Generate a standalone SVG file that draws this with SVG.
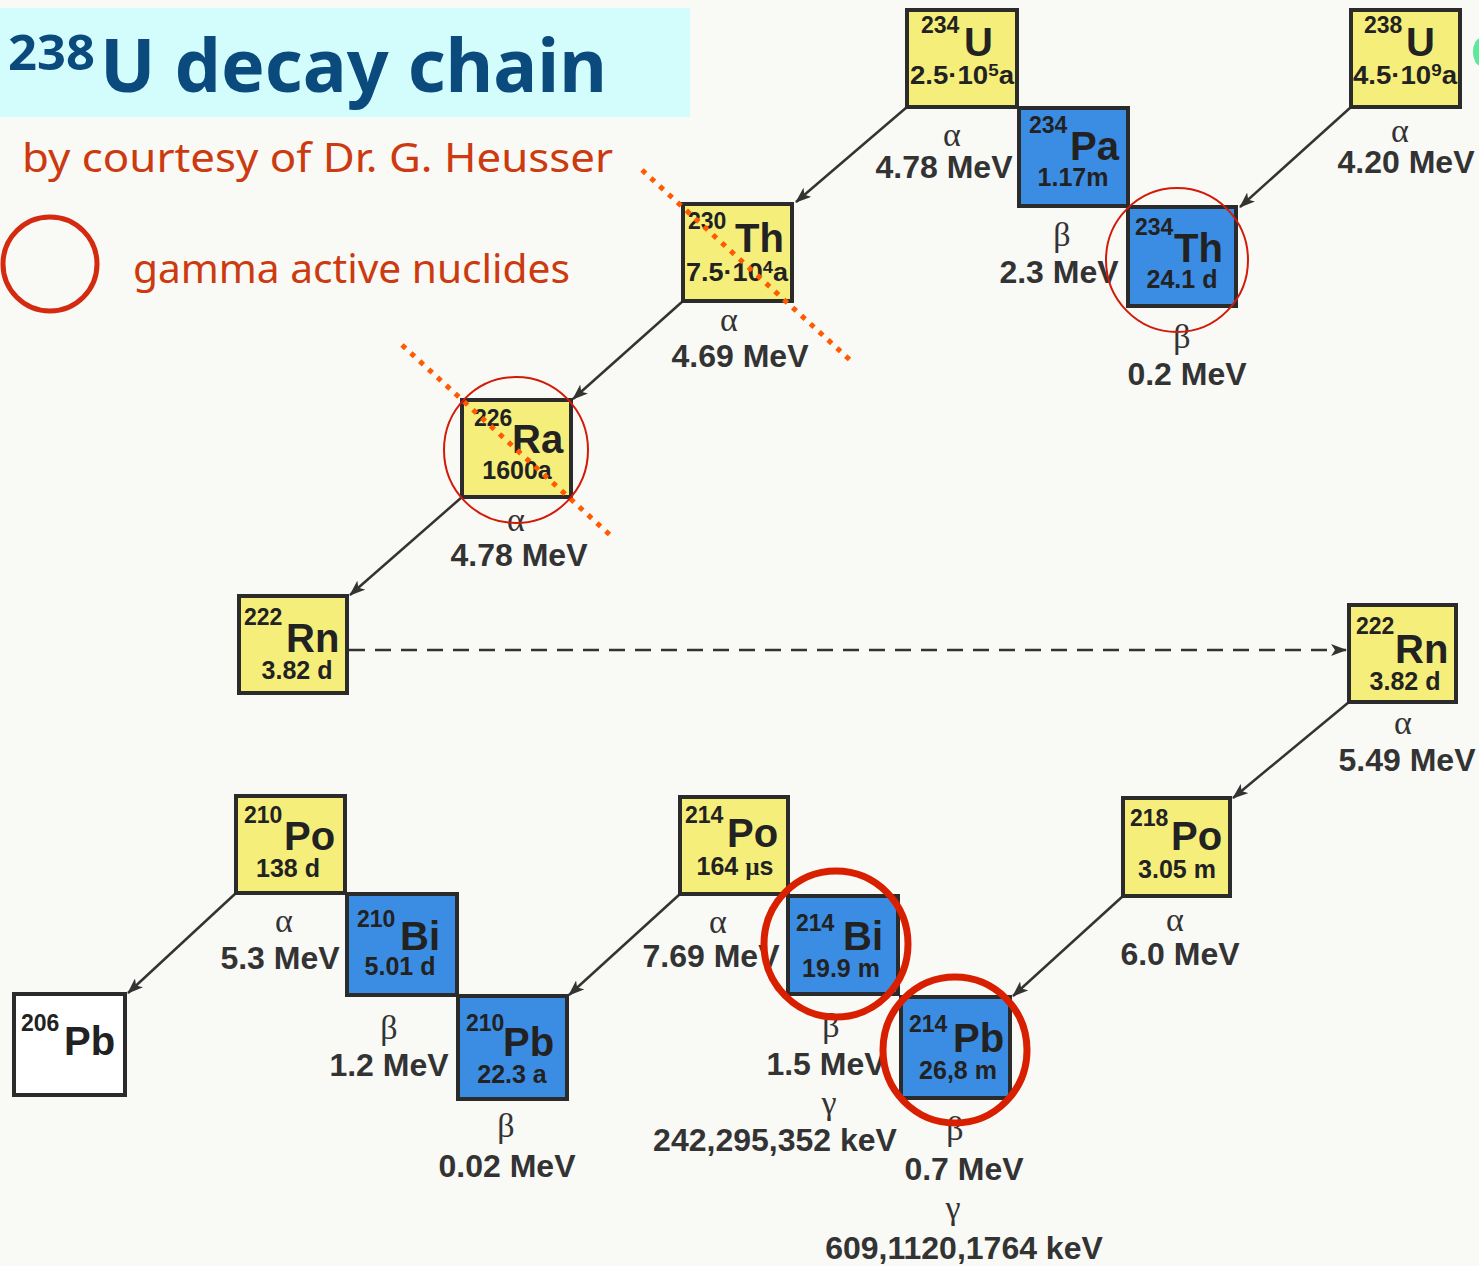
<svg xmlns="http://www.w3.org/2000/svg" width="1479" height="1266" viewBox="0 0 1479 1266">
<defs>
<marker id="ah" viewBox="0 0 16 12" refX="15" refY="6" markerWidth="16" markerHeight="12" markerUnits="userSpaceOnUse" orient="auto">
<path d="M0,0 L16,6 L0,12 L4,6 z" fill="#333"/>
</marker>
<style>
.box{stroke:#2b2b2b;stroke-width:4}
.y{fill:#f5ee7b}
.b{fill:#3b8de3}
.w{fill:#ffffff}
.mass{font-family:"Liberation Sans",Arial,sans-serif;font-weight:bold;font-size:23px;fill:#222}
.sym{font-family:"Liberation Sans",Arial,sans-serif;font-weight:bold;font-size:40px;fill:#222}
.hl{font-family:"Liberation Sans",Arial,sans-serif;font-weight:bold;font-size:25px;fill:#222;text-anchor:middle}
.gr{font-family:"Liberation Serif","Times New Roman",serif;font-size:34px;fill:#333;text-anchor:middle}
.en{font-family:"Liberation Sans",Arial,sans-serif;font-weight:bold;font-size:32px;fill:#333;text-anchor:middle}
.arr{stroke:#333;stroke-width:2.5;fill:none;marker-end:url(#ah)}
.dot{stroke:#ff5a00;stroke-width:5;stroke-dasharray:5 7;fill:none}
.gth{fill:none;stroke:#d21a08;stroke-width:2}
.gtk{fill:none;stroke:#d82000;stroke-width:7}
.hand{font-family:"Comic Sans MS","Noto Sans","DejaVu Sans",sans-serif}
</style>
</defs>
<rect width="1479" height="1266" fill="#f9f9f6"/>
<g id="title">
<rect x="0" y="8" width="690" height="109" fill="#d3fcfc"/>
<text class="hand" x="8" y="70" font-size="48" font-weight="bold" fill="#0b4a7d" textLength="87" lengthAdjust="spacingAndGlyphs">238</text>
<text class="hand" x="100" y="92" font-size="74" font-weight="bold" fill="#0b4a7d" textLength="507" lengthAdjust="spacingAndGlyphs">U decay chain</text>
</g>
<g id="credit">
<text class="hand" x="22" y="172" font-size="40" fill="#cc3a10" textLength="591" lengthAdjust="spacingAndGlyphs">by courtesy of Dr. G. Heusser</text>
</g>
<g id="legend">
<ellipse cx="50" cy="264" rx="47" ry="47" fill="none" stroke="#d42a10" stroke-width="5"/>
<text class="hand" x="133" y="283" font-size="40" fill="#cc3a10" textLength="437" lengthAdjust="spacingAndGlyphs">gamma active nuclides</text>
</g>
<ellipse cx="1481" cy="52" rx="8" ry="14" fill="#5ee89a"/>

<g id="connectors">
<line class="arr" x1="907" y1="107" x2="796" y2="202"/>
<line class="arr" x1="1351" y1="107" x2="1240" y2="207"/>
<line class="arr" x1="683" y1="301" x2="573" y2="399"/>
<line class="arr" x1="462" y1="497" x2="350" y2="595"/>
<line class="arr" x1="349" y1="650" x2="1346" y2="650" stroke-dasharray="16 10"/>
<line class="arr" x1="1349" y1="702" x2="1233" y2="798"/>
<line class="arr" x1="1123" y1="896" x2="1013" y2="996"/>
<line class="arr" x1="680" y1="894" x2="569" y2="995"/>
<line class="arr" x1="236" y1="893" x2="128" y2="993"/>
</g>

<g id="n234U">
<rect class="box y" x="907" y="10" width="110" height="97"/>
<text class="mass" x="921" y="33">234</text>
<text class="sym" x="964" y="56">U</text>
<text class="hl" x="962" y="84" textLength="104" lengthAdjust="spacingAndGlyphs">2.5·10<tspan font-size="17" dy="-8">5</tspan><tspan dy="8">a</tspan></text>
<text class="gr" x="952" y="146">α</text>
<text class="en" x="944" y="178">4.78 MeV</text>
</g>
<g id="n234Pa">
<rect class="box b" x="1019" y="108" width="109" height="98"/>
<text class="mass" x="1029" y="133">234</text>
<text class="sym" x="1070" y="160">Pa</text>
<text class="hl" x="1073" y="186">1.17m</text>
<text class="gr" x="1062" y="246">β</text>
<text class="en" x="1059" y="283">2.3 MeV</text>
</g>
<g id="n234Th">
<rect class="box b" x="1128" y="207" width="108" height="99"/>
<text class="mass" x="1135" y="235">234</text>
<text class="sym" x="1174" y="262">Th</text>
<text class="hl" x="1182" y="288">24.1 d</text>
<text class="gr" x="1182" y="348">β</text>
<text class="en" x="1187" y="385">0.2 MeV</text>
</g>
<g id="n238U">
<rect class="box y" x="1351" y="10" width="109" height="97"/>
<text class="mass" x="1364" y="33">238</text>
<text class="sym" x="1406" y="56">U</text>
<text class="hl" x="1405" y="84" textLength="104" lengthAdjust="spacingAndGlyphs">4.5·10<tspan font-size="17" dy="-8">9</tspan><tspan dy="8">a</tspan></text>
<text class="gr" x="1400" y="142">α</text>
<text class="en" x="1406" y="173">4.20 MeV</text>
</g>
<g id="n230Th">
<rect class="box y" x="683" y="204" width="109" height="97"/>
<text class="mass" x="688" y="229">230</text>
<text class="sym" x="735" y="252">Th</text>
<text class="hl" x="737" y="281" textLength="102" lengthAdjust="spacingAndGlyphs">7.5·10<tspan font-size="17" dy="-8">4</tspan><tspan dy="8">a</tspan></text>
<text class="gr" x="729" y="331">α</text>
<text class="en" x="740" y="367">4.69 MeV</text>
</g>
<g id="n226Ra">
<rect class="box y" x="462" y="400" width="109" height="97"/>
<text class="mass" x="474" y="426">226</text>
<text class="sym" x="512" y="453">Ra</text>
<text class="hl" x="517" y="479">1600a</text>
<text class="gr" x="516" y="531">α</text>
<text class="en" x="519" y="566">4.78 MeV</text>
</g>
<g id="n222RnL">
<rect class="box y" x="239" y="596" width="108" height="97"/>
<text class="mass" x="244" y="625">222</text>
<text class="sym" x="286" y="652">Rn</text>
<text class="hl" x="297" y="679">3.82 d</text>
</g>
<g id="n222RnR">
<rect class="box y" x="1349" y="605" width="107" height="97"/>
<text class="mass" x="1356" y="634">222</text>
<text class="sym" x="1395" y="663">Rn</text>
<text class="hl" x="1405" y="690">3.82 d</text>
<text class="gr" x="1403" y="734">α</text>
<text class="en" x="1407" y="771">5.49 MeV</text>
</g>
<g id="n218Po">
<rect class="box y" x="1123" y="798" width="107" height="98"/>
<text class="mass" x="1130" y="826">218</text>
<text class="sym" x="1171" y="850">Po</text>
<text class="hl" x="1177" y="878">3.05 m</text>
<text class="gr" x="1175" y="931">α</text>
<text class="en" x="1180" y="965">6.0 MeV</text>
</g>
<g id="n214Po">
<rect class="box y" x="680" y="797" width="108" height="97"/>
<text class="mass" x="685" y="823">214</text>
<text class="sym" x="727" y="847">Po</text>
<text class="hl" x="735" y="875">164 <tspan font-family="Liberation Serif,serif">µ</tspan>s</text>
<text class="gr" x="718" y="933">α</text>
<text class="en" x="711" y="967">7.69 MeV</text>
</g>
<g id="n214Bi">
<rect class="box b" x="788" y="896" width="110" height="98"/>
<text class="mass" x="796" y="931">214</text>
<text class="sym" x="843" y="950">Bi</text>
<text class="hl" x="841" y="977">19.9 m</text>
<text class="gr" x="831" y="1037">β</text>
<text class="en" x="826" y="1075">1.5 MeV</text>
<text class="gr" x="829" y="1114">γ</text>
<text class="en" x="775" y="1151">242,295,352 keV</text>
</g>
<g id="n214Pb">
<rect class="box b" x="901" y="997" width="109" height="101"/>
<text class="mass" x="909" y="1032">214</text>
<text class="sym" x="953" y="1052">Pb</text>
<text class="hl" x="958" y="1079">26,8 m</text>
<text class="gr" x="955" y="1140">β</text>
<text class="en" x="964" y="1180">0.7 MeV</text>
<text class="gr" x="953" y="1219">γ</text>
<text class="en" x="964" y="1259">609,1120,1764 keV</text>
</g>
<g id="n210Po">
<rect class="box y" x="236" y="796" width="109" height="97"/>
<text class="mass" x="244" y="823">210</text>
<text class="sym" x="284" y="850">Po</text>
<text class="hl" x="288" y="877">138 d</text>
<text class="gr" x="284" y="932">α</text>
<text class="en" x="280" y="969">5.3 MeV</text>
</g>
<g id="n210Bi">
<rect class="box b" x="347" y="894" width="110" height="101"/>
<text class="mass" x="357" y="927">210</text>
<text class="sym" x="400" y="950">Bi</text>
<text class="hl" x="400" y="975">5.01 d</text>
<text class="gr" x="389" y="1039">β</text>
<text class="en" x="389" y="1076">1.2 MeV</text>
</g>
<g id="n210Pb">
<rect class="box b" x="458" y="996" width="109" height="103"/>
<text class="mass" x="466" y="1031">210</text>
<text class="sym" x="503" y="1056">Pb</text>
<text class="hl" x="512" y="1083">22.3 a</text>
<text class="gr" x="506" y="1137">β</text>
<text class="en" x="507" y="1177">0.02 MeV</text>
</g>
<g id="n206Pb">
<rect class="box w" x="14" y="994" width="111" height="101"/>
<text class="mass" x="21" y="1031">206</text>
<text class="sym" x="64" y="1055">Pb</text>
</g>

<g id="marks">
<line class="dot" x1="642" y1="170" x2="850" y2="360"/>
<line class="dot" x1="402" y1="345" x2="610" y2="535"/>
<ellipse class="gth" cx="1177" cy="260" rx="71" ry="72"/>
<ellipse class="gth" cx="516" cy="450" rx="72" ry="73"/>
<ellipse class="gtk" cx="836" cy="944" rx="72" ry="73"/>
<ellipse class="gtk" cx="955" cy="1050" rx="72" ry="73"/>
</g>
</svg>
